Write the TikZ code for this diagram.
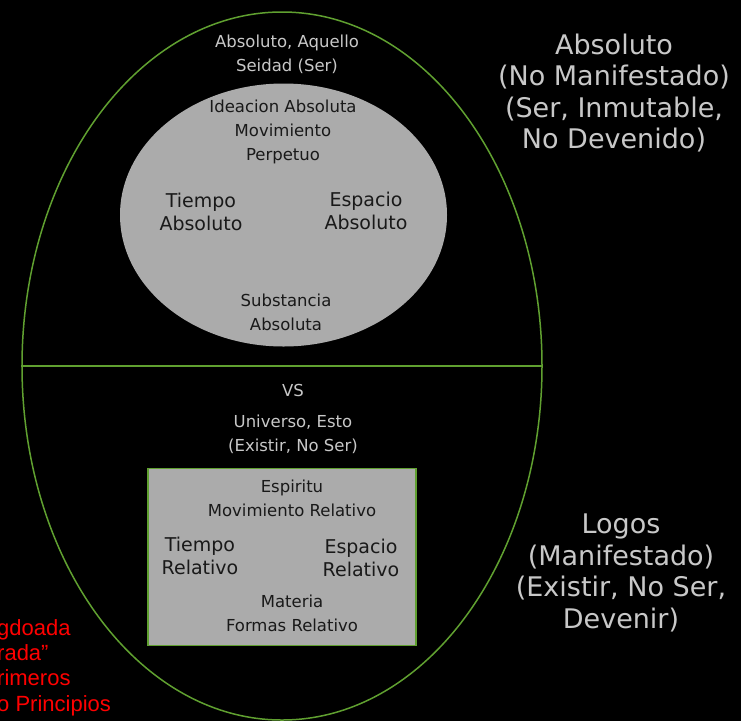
\documentclass[tikz,border=0pt]{standalone}
\usepackage{fontspec}
\setmainfont{DejaVu Sans}
\newfontfamily\redfont{Liberation Sans}
\usetikzlibrary{positioning, shapes}

\definecolor{lgreen}{RGB}{96,160,48}
\definecolor{ltext}{RGB}{200,200,200}
\definecolor{fillgray}{RGB}{171,171,171}
\definecolor{dtext}{RGB}{25,25,25}

\begin{document}
\begin{tikzpicture}[x=1pt, y=-1pt,
    txt/.style={align=center, inner sep=0pt, text=ltext, font=\fontsize{16.5}{24}\selectfont},
    big/.style={txt, font=\fontsize{27}{31.5}\selectfont},
    dark/.style={txt, text=dtext},
    wide/.style={dark, font=\fontsize{19}{23.5}\selectfont}]
    \fill[black] (0,0) rectangle (741,721);
    \useasboundingbox (0,0) rectangle (741,721);

    \node[ellipse, draw=lgreen, line width=1.5pt, minimum width=520pt, minimum height=708pt, inner sep=0pt] (w) at (282,366) {};
    \draw[-, lgreen, line width=2pt] (w.west) -- (w.east);
    \node[ellipse, fill=fillgray, minimum width=327pt, minimum height=263pt, inner sep=0pt] (s) at (283.5,215) {};
    \node[rectangle, draw=lgreen, fill=fillgray, line width=1.5pt, minimum width=268pt, minimum height=177pt, inner sep=0pt] (r) at (282,557) {};

    \node[txt] (aq) at (287,54) {Absoluto, Aquello\\Seidad (Ser)};
    \node[dark] (id) at (283,132) {Ideacion Absoluta\\Movimiento\\Perpetuo};
    \node[wide] (ta) at (201,212) {Tiempo\\Absoluto};
    \node[wide] (ea) at (366,211) {Espacio\\Absoluto};
    \node[dark] (sa) at (286,312) {Substancia\\Absoluta};

    \node[txt] (vs) at (293,390) {VS};
    \node[txt, below=18pt of vs] (un) {Universo, Esto\\(Existir, No Ser)};

    \node[dark] (es) at (292,498) {Espiritu\\Movimiento Relativo};
    \node[wide] (tr) at (200,556) {Tiempo\\Relativo};
    \node[wide] (er) at (361,558) {Espacio\\Relativo};
    \node[dark] (ma) at (292,613) {Materia\\Formas Relativo};

    \node[big] (ab) at (614,93) {Absoluto\\(No Manifestado)\\(Ser, Inmutable,\\No Devenido)};
    \node[big] (lg) at (621,573) {Logos\\(Manifestado)\\(Existir, No Ser,\\Devenir)};

    \node[txt, text=red, align=left, anchor=north west, font=\redfont\fontsize{22}{25.3}\selectfont] (og) at (-3,619) {gdoada\\rada”\\rimeros\\o Principios};
\end{tikzpicture}
\end{document}
